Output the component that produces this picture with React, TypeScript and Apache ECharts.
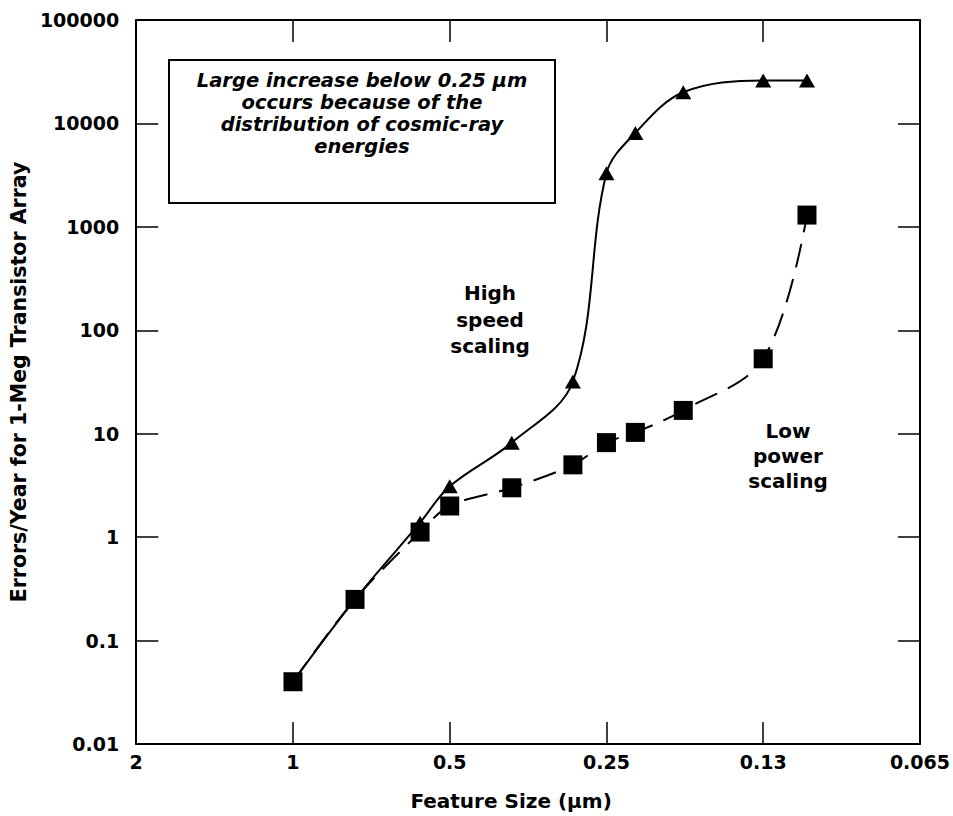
import React, { useEffect, useRef } from "react";
import * as echarts from "echarts";

// Feature size axis (µm) – reversed log2 scale
const sizeTickLabels = ["2", "1", "0.5", "0.25", "0.13", "0.065"];
// Errors/Year axis – log10 scale
const errorTickLabels = ["0.01", "0.1", "1", "10", "100", "1000", "10000", "100000"];

// High speed scaling (triangles)
const highSpeedSizes = [1.0, 0.76, 0.57, 0.5, 0.38, 0.29, 0.25, 0.22, 0.178, 0.125, 0.103];
const highSpeedErrors = [0.04, 0.25, 1.38, 3.1, 8.2, 32, 3300, 8100, 20000, 26000, 26000];

// Low power scaling (squares)
const lowPowerSizes = [1.0, 0.76, 0.57, 0.5, 0.38, 0.29, 0.25, 0.22, 0.178, 0.125, 0.103];
const lowPowerErrors = [0.04, 0.25, 1.12, 2.0, 3.0, 5.0, 8.2, 10.3, 16.8, 53, 1300];

const annotationLines = [
  "Large increase below 0.25 \u00b5m",
  "occurs because of the",
  "distribution of cosmic-ray",
  "energies",
];
const highSpeedLabel = ["High", "speed", "scaling"];
const lowPowerLabel = ["Low", "power", "scaling"];

const FONT = "'DejaVu Sans', 'Liberation Sans', Arial, sans-serif";

export default function App() {
  const ref = useRef<HTMLDivElement>(null);

  useEffect(() => {
    if (!ref.current) return;
    const chart = echarts.init(ref.current, undefined, { renderer: "svg" });

    const xFmt = (v: number) => sizeTickLabels[Math.round(Math.log2(2 / v))] ?? "";
    const yFmt = (v: number) => errorTickLabels[Math.round(Math.log10(v)) + 2] ?? "";

    const xBase = {
      type: "log" as const,
      logBase: 2,
      min: 0.0625,
      max: 2,
      interval: 1,
      inverse: true,
      splitLine: { show: false },
      axisLine: { show: true, lineStyle: { color: "#000", width: 2 } },
      axisTick: { show: true, inside: true, length: 22, lineStyle: { color: "#000", width: 1.5 } },
    };
    const yBase = {
      type: "log" as const,
      logBase: 10,
      min: 0.01,
      max: 100000,
      interval: 1,
      splitLine: { show: false },
      axisLine: { show: true, lineStyle: { color: "#000", width: 2 } },
      axisTick: { show: true, inside: true, length: 22, lineStyle: { color: "#000", width: 1.5 } },
    };

    const annotationTexts = annotationLines.map((line, i) => ({
      type: "text",
      x: 362,
      y: 70 + i * 22,
      z: 11,
      style: {
        text: line,
        align: "center",
        verticalAlign: "top",
        fontFamily: FONT,
        fontWeight: "bold",
        fontStyle: "italic",
        fontSize: 19.5,
        fill: "#000",
      },
    }));

    chart.setOption({
      animation: false,
      backgroundColor: "#fff",
      grid: { left: 127, right: 26, top: 20, bottom: 71, containLabel: false },
      xAxis: [
        {
          ...xBase,
          position: "bottom",
          name: "Feature Size (\u00b5m)",
          nameLocation: "middle",
          nameGap: 47,
          nameTextStyle: {
            color: "#000",
            fontFamily: FONT,
            fontWeight: "bold",
            fontSize: 20,
            padding: [0, 34, 0, 0],
          },
          axisLabel: {
            show: true,
            formatter: xFmt,
            color: "#000",
            fontFamily: FONT,
            fontWeight: "bold",
            fontSize: 19,
            margin: 8,
          },
        },
        { ...xBase, position: "top", axisLabel: { show: false } },
      ],
      yAxis: [
        {
          ...yBase,
          position: "left",
          name: "Errors/Year for 1-Meg Transistor Array",
          nameLocation: "middle",
          nameGap: 74,
          nameTextStyle: {
            color: "#000",
            fontFamily: FONT,
            fontWeight: "bold",
            fontSize: 20.5,
          },
          axisLabel: {
            show: true,
            formatter: yFmt,
            color: "#000",
            fontFamily: FONT,
            fontWeight: "bold",
            fontSize: 19,
            margin: 17,
          },
        },
        { ...yBase, position: "right", axisLabel: { show: false } },
      ],
      series: [
        {
          name: "High speed scaling",
          type: "line",
          xAxisIndex: 0,
          yAxisIndex: 0,
          data: highSpeedSizes.map((s, i) => [s, highSpeedErrors[i]]),
          smooth: 0.35,
          symbol: "triangle",
          symbolSize: [16, 14],
          showAllSymbol: true,
          lineStyle: { color: "#000", width: 2 },
          itemStyle: { color: "#000" },
          z: 2,
        },
        {
          name: "Low power scaling",
          type: "line",
          xAxisIndex: 0,
          yAxisIndex: 0,
          data: lowPowerSizes.map((s, i) => [s, lowPowerErrors[i]]),
          smooth: 0.35,
          symbol: "rect",
          symbolSize: 19,
          showAllSymbol: true,
          lineStyle: { color: "#000", width: 2, type: [24, 12] },
          itemStyle: { color: "#000" },
          z: 3,
        },
      ],
      graphic: [
        {
          type: "rect",
          shape: { x: 169, y: 60, width: 386, height: 143 },
          style: { fill: "#fff", stroke: "#000", lineWidth: 2 },
          z: 10,
        },
        ...annotationTexts,
        {
          type: "text",
          x: 490,
          y: 280,
          z: 11,
          style: {
            text: highSpeedLabel.join("\n"),
            align: "center",
            verticalAlign: "top",
            lineHeight: 26.5,
            fontFamily: FONT,
            fontWeight: "bold",
            fontSize: 20,
            fill: "#000",
          },
        },
        {
          type: "text",
          x: 788,
          y: 418,
          z: 11,
          style: {
            text: lowPowerLabel.join("\n"),
            align: "center",
            verticalAlign: "top",
            lineHeight: 25,
            fontFamily: FONT,
            fontWeight: "bold",
            fontSize: 20,
            fill: "#000",
          },
        },
      ],
    });

    return () => chart.dispose();
  }, []);

  return (
    <div
      ref={ref}
      style={{ position: "fixed", left: 0, top: 0, width: 953, height: 816, background: "#fff" }}
    />
  );
}
